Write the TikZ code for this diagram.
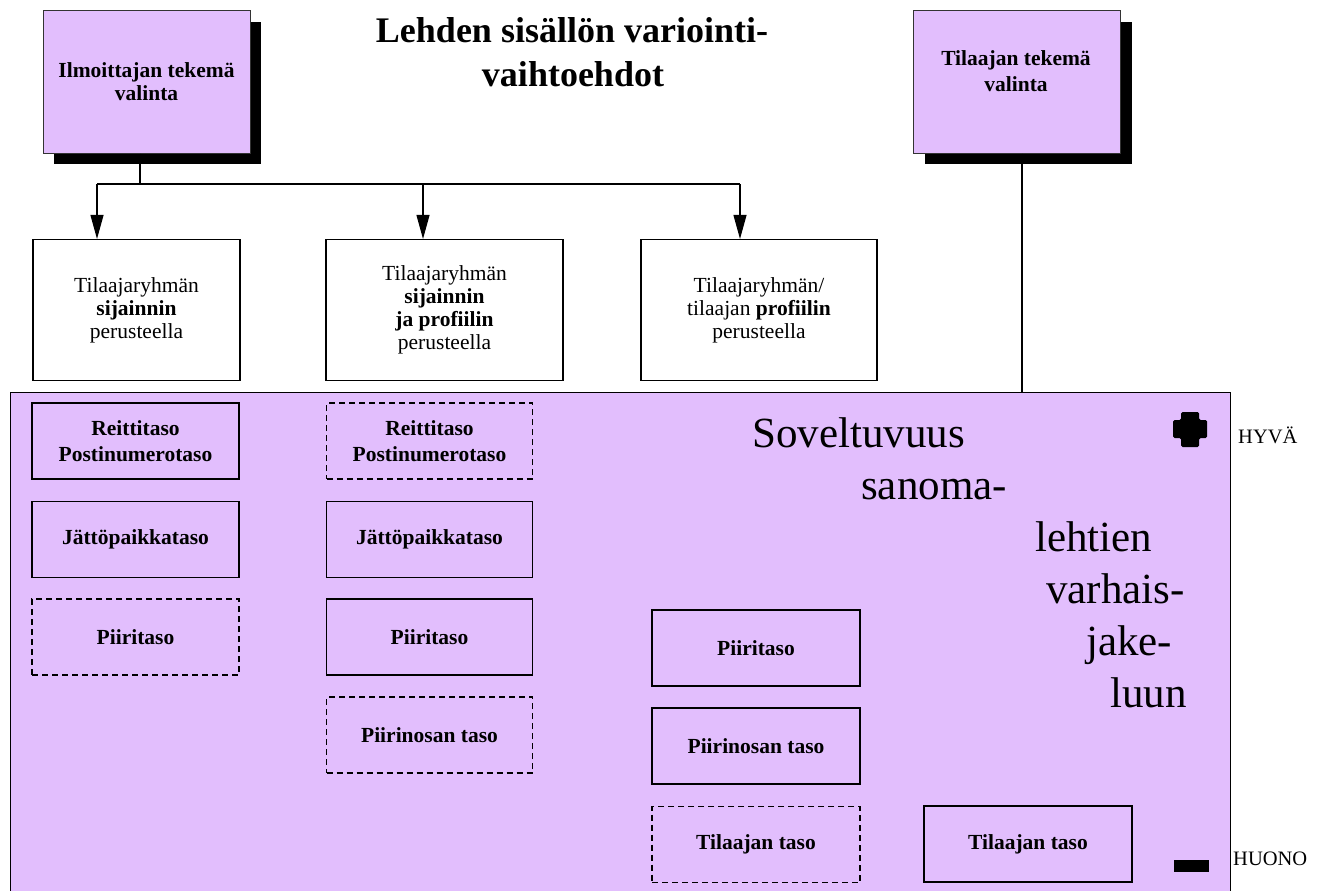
\documentclass[tikz,border=0pt]{standalone}
\usepackage{fontspec}
\setmainfont{Liberation Serif}
\usetikzlibrary{arrows.meta,shadows}
\definecolor{lila}{RGB}{226,190,253}
\begin{document}
\begin{tikzpicture}[x=1pt,y=-1pt,
  box/.style={draw=black, line width=1.1pt, fill=lila, inner sep=0pt, align=center,
    minimum width=207pt, minimum height=76pt,
    font=\fontsize{21.5}{26}\selectfont\bfseries},
  dbox/.style={box, dash pattern=on 6pt off 4pt},
  wbox/.style={draw=black, line width=1.1pt, fill=white, inner sep=0pt, align=center,
    minimum height=141pt, font=\fontsize{21.5}{23}\selectfont},
  topbox/.style={draw=black!80, line width=1pt, fill=lila, inner sep=0pt, align=center,
    minimum width=207pt, minimum height=142pt,
    drop shadow={shadow xshift=11pt, shadow yshift=-11pt, fill=black, opacity=1}},
  conn/.style={line width=1.1pt},
  arr/.style={conn, -{Triangle[length=24pt,width=13pt]}},
  bigword/.style={anchor=base west, inner sep=0pt, font=\fontsize{43}{52}\selectfont},
  side/.style={anchor=base west, inner sep=0pt, font=\fontsize{20.5}{24}\selectfont},
]
\fill[white] (0,0) rectangle (1326,891);
\useasboundingbox (0,0) rectangle (1326,891);

% title
\node[anchor=base, inner sep=0pt, font=\fontsize{36}{43}\selectfont\bfseries] (title1) at (572,43) {Lehden sisällön variointi-};
\node[anchor=base, inner sep=0pt, font=\fontsize{36}{43}\selectfont\bfseries] (title2) at (573,86) {vaihtoehdot};

% top boxes
\node[topbox, font=\fontsize{21.5}{23}\selectfont\bfseries] (ilm) at (146.5,82) {Ilmoittajan tekemä\\valinta};
\node[topbox] (tv) at (1017,82) {};
\node[anchor=north, inner sep=0pt, align=center, font=\fontsize{21.5}{26}\selectfont\bfseries] (tvtext) at (1016,50.5) {Tilaajan tekemä\\valinta};

% white boxes
\node[wbox, minimum width=207pt] (b1) at (136.5,310) {Tilaajaryhmän\\\textbf{sijainnin}\\perusteella};
\node[wbox, minimum width=237pt] (b2) at (444.5,310) {Tilaajaryhmän\\\textbf{sijainnin}\\\textbf{ja profiilin}\\perusteella};
\node[wbox, minimum width=236pt] (b3) at (759,310) {Tilaajaryhmän/\\tilaajan \textbf{profiilin}\\perusteella};

% connectors
\coordinate (hub) at (140,184);
\coordinate (a1) at (97,184);
\coordinate (a2) at (423,184);
\coordinate (a3) at (740,184);
\coordinate (t1) at (1022,0);
\draw[conn] (ilm.south -| hub) -- (hub);
\draw[conn] (a1) -- (a3);
\draw[arr] (a1) -- (a1 |- b1.north);
\draw[arr] (a2) -- (a2 |- b2.north);
\draw[arr] (a3) -- (a3 |- b3.north);

% big box
\node[draw=black, line width=1.1pt, fill=lila, minimum width=1220pt, minimum height=520pt, anchor=north west, inner sep=0pt] (bigbox) at (10,392) {};
\draw[conn] (tv.south -| t1) -- (t1 |- bigbox.north);

% left column
\node[box] (l1) at (135.5,441) {Reittitaso\\Postinumerotaso};
\node[box] (l2) at (135.5,539.5) {Jättöpaikkataso};
\node[dbox] (l3) at (135.5,637) {Piiritaso};
% middle column
\node[dbox, minimum width=206pt] (m1) at (429.5,441) {Reittitaso\\Postinumerotaso};
\node[box, minimum width=206pt] (m2) at (429.5,539.5) {Jättöpaikkataso};
\node[box, minimum width=206pt] (m3) at (429.5,637) {Piiritaso};
\node[dbox, minimum width=206pt] (m4) at (429.5,735) {Piirinosan taso};
% right column
\node[box, minimum width=208pt] (r1) at (756,648) {Piiritaso};
\node[box, minimum width=208pt] (r2) at (756,746) {Piirinosan taso};
\node[dbox, minimum width=208pt] (r3) at (756,844.5) {Tilaajan taso};
\node[box, minimum width=208pt] (k1) at (1028,844) {Tilaajan taso};

% big words
\node[bigword] (w1) at (752,447) {Soveltuvuus};
\node[bigword] (w2) at (861,499) {sanoma-};
\node[bigword] (w3) at (1035,551) {lehtien};
\node[bigword] (w4) at (1046,603) {varhais-};
\node[bigword] (w5) at (1086,655) {jake-};
\node[bigword] (w6) at (1110,707) {luun};

% plus and minus
\fill[black, rounded corners=1.5pt] (1181,412) -- (1199,412) -- (1199,420) -- (1207,420) -- (1207,438) -- (1199,438) -- (1199,447) -- (1181,447) -- (1181,438) -- (1173,438) -- (1173,420) -- (1181,420) -- cycle;
\fill[black] (1174,860) rectangle (1209,872);

\node[side] (hyva) at (1238,443) {HYVÄ};
\node[side] (huono) at (1233,865) {HUONO};
\end{tikzpicture}
\end{document}
